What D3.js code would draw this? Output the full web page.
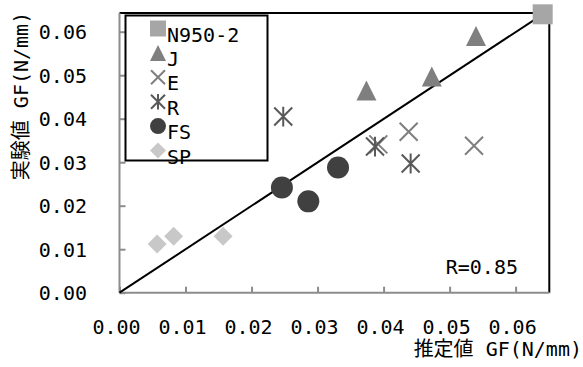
<!DOCTYPE html>
<html>
<head>
<meta charset="utf-8">
<script src="https://cdn.jsdelivr.net/npm/d3@7"></script>
<style>
  html, body { margin: 0; padding: 0; background: #fff; }
  svg { display: block; }
  text { font-family: "DejaVu Sans Mono", "Noto Sans CJK JP", monospace; fill: #000; }
</style>
</head>
<body>
<svg id="chart" width="583" height="367"></svg>
<script>
// Estimated (x) vs. measured (y) fracture energy GF in N/mm, per series
const seriesNames = ["N950-2", "J", "E", "R", "FS", "SP"];
const n950X = [0.0641];
const n950Y = [0.0640];
const jX = [0.0374, 0.0473, 0.0540];
const jY = [0.0465, 0.0497, 0.0590];
const eX = [0.0392, 0.0438, 0.0537];
const eY = [0.0341, 0.0370, 0.0338];
const rX = [0.0248, 0.0387, 0.0441];
const rY = [0.0405, 0.0336, 0.0297];
const fsX = [0.0246, 0.0286, 0.0331];
const fsY = [0.0242, 0.0210, 0.0288];
const spX = [0.0057, 0.0082, 0.0157];
const spY = [0.0112, 0.0130, 0.0130];
// 1:1 reference line
const lineX = [0, 0.0641];
const lineY = [0, 0.0640];
const tickValues = [0, 0.01, 0.02, 0.03, 0.04, 0.05, 0.06];
const rLabel = "R=0.85";
const xTitle = "推定値 GF(N/mm)";
const yTitle = "実験値 GF(N/mm)";

const svg = d3.select("#chart");
const x = d3.scaleLinear().domain([0, 0.0651]).range([119.5, 549.3]);
const y = d3.scaleLinear().domain([0, 0.0643]).range([292.7, 13]);

const styles = {
  "N950-2": { shape: "square", color: "#a6a6a6" },
  "J": { shape: "triangle", color: "#7f7f7f" },
  "E": { shape: "x", color: "#7f7f7f" },
  "R": { shape: "asterisk", color: "#595959" },
  "FS": { shape: "circle", color: "#404040" },
  "SP": { shape: "diamond", color: "#c8c8c8" }
};

function markerPath(shape, s) {
  switch (shape) {
    case "square": return `M${-s},${-s}h${2*s}v${2*s}h${-2*s}Z`;
    case "triangle": return `M0,${-s}L${s},${s}L${-s},${s}Z`;
    case "diamond": return `M0,${-s}L${s},0L0,${s}L${-s},0Z`;
    case "x": return `M${-s},${-s}L${s},${s}M${-s},${s}L${s},${-s}`;
    case "asterisk": return `M${-s},${-s}L${s},${s}M${-s},${s}L${s},${-s}M0,${-s*1.1}L0,${s*1.1}`;
  }
}

function drawMarker(g, shape, color, cx, cy, s) {
  if (shape === "circle") {
    g.append("circle").attr("cx", cx).attr("cy", cy).attr("r", s).attr("fill", color);
  } else if (shape === "x" || shape === "asterisk") {
    g.append("path").attr("transform", `translate(${cx},${cy})`)
      .attr("d", markerPath(shape, s)).attr("fill", "none")
      .attr("stroke", color).attr("stroke-width", 2);
  } else {
    g.append("path").attr("transform", `translate(${cx},${cy})`)
      .attr("d", markerPath(shape, s)).attr("fill", color);
  }
}

// Frame: black top and right edges
svg.append("path")
  .attr("d", `M${x(0)},${y.range()[1]}H${x.range()[1]}V${y(0)}`)
  .attr("fill", "none").attr("stroke", "#000").attr("stroke-width", 2);

// Gray axes with inward ticks
const xAxis = d3.axisTop(x).tickValues(tickValues).tickSize(6).tickFormat("");
const yAxis = d3.axisRight(y).tickValues(tickValues).tickSize(6).tickFormat("");
const gx = svg.append("g").attr("transform", `translate(0,${y(0)})`).call(xAxis);
gx.select(".domain").attr("d", `M${x.range()[0]},0H${x.range()[1]}`);
const gy = svg.append("g").attr("transform", `translate(${x(0)},0)`).call(yAxis);
gy.select(".domain").attr("d", `M0,${y.range()[0]}V${y.range()[1]}`);
svg.selectAll(".domain, .tick line").attr("stroke", "#8c8c8c").attr("stroke-width", 2);

// Tick labels
svg.append("g").selectAll("text").data(tickValues).join("text")
  .attr("x", d => x(d) - 3).attr("y", 334)
  .attr("text-anchor", "middle").attr("font-size", 20)
  .text(d => d3.format(".2f")(d));
svg.append("g").selectAll("text").data(tickValues).join("text")
  .attr("x", 87).attr("y", d => y(d) + 7.5)
  .attr("text-anchor", "end").attr("font-size", 20)
  .text(d => d3.format(".2f")(d));

// Axis titles
svg.append("text").attr("x", 582).attr("y", 356).attr("text-anchor", "end")
  .attr("font-size", 20).text(xTitle);
svg.append("text").attr("transform", "translate(28,96) rotate(-90)")
  .attr("text-anchor", "middle").attr("font-size", 20).text(yTitle);

// 1:1 line
svg.append("path")
  .attr("d", d3.line().x(d => x(d[0])).y(d => y(d[1]))(d3.zip(lineX, lineY)))
  .attr("fill", "none").attr("stroke", "#000").attr("stroke-width", 2);

// Data points
const data = {
  "N950-2": d3.zip(n950X, n950Y),
  "J": d3.zip(jX, jY),
  "E": d3.zip(eX, eY),
  "R": d3.zip(rX, rY),
  "FS": d3.zip(fsX, fsY),
  "SP": d3.zip(spX, spY)
};
const markerSize = { square: 10, triangle: 10, x: 9, asterisk: 9, circle: 11, diamond: 9.5 };
const pts = svg.append("g");
seriesNames.forEach(name => {
  const st = styles[name];
  data[name].forEach(([vx, vy]) => drawMarker(pts, st.shape, st.color, x(vx), y(vy), markerSize[st.shape]));
});

// Correlation label
svg.append("text").attr("x", 518).attr("y", 274).attr("text-anchor", "end")
  .attr("font-size", 20).text(rLabel);

// Legend
const lg = svg.append("g");
lg.append("rect").attr("x", 125.5).attr("y", 15.5).attr("width", 142).attr("height", 145)
  .attr("fill", "#fff").attr("stroke", "#000").attr("stroke-width", 2);
const legendSize = { square: 8, triangle: 8, x: 7, asterisk: 7, circle: 8, diamond: 8 };
seriesNames.forEach((name, i) => {
  const cy = 28.5 + i * 24.4;
  const st = styles[name];
  drawMarker(lg, st.shape, st.color, 158, cy, legendSize[st.shape]);
  lg.append("text").attr("x", 167).attr("y", cy + 13).attr("font-size", 20).text(name);
});
</script>
</body>
</html>
